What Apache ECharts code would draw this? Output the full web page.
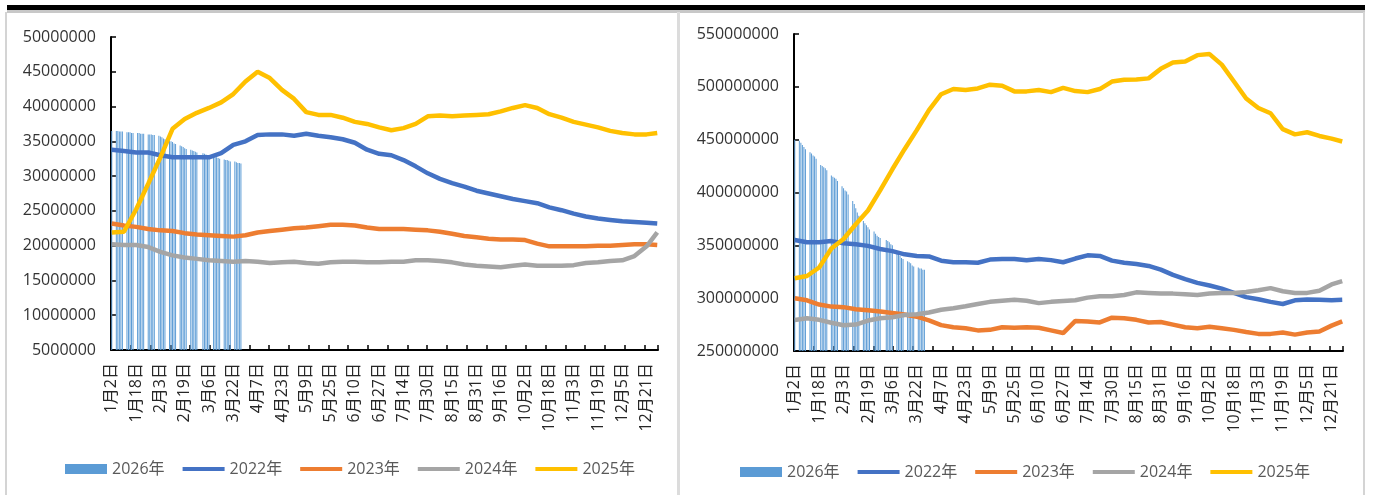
<!DOCTYPE html>
<html>
<head>
<meta charset="utf-8">
<script src="https://cdn.jsdelivr.net/npm/echarts@6/dist/echarts.min.js"></script>
<style>
html,body{margin:0;padding:0;background:#fff;}
#c{width:1373px;height:495px;}
</style>
</head>
<body>
<div id="c"></div>
<script>
// ---- categories: daily month/day labels (leap-year calendar, two days absent in the source)
const monthDays = [31,29,31,30,31,30,31,31,30,31,30,31];
const absentDays = ['1月1日','6月20日','7月6日'];
const lastDay = '12月28日';
const categories = [];
(function(){
  for (let m = 1; m <= 12; m++) {
    for (let d = 1; d <= monthDays[m-1]; d++) {
      const s = m + '月' + d + '日';
      if (absentDays.indexOf(s) >= 0) continue;
      categories.push(s);
      if (s === lastDay) return;
    }
  }
})();

const sampleDates = ['1月2日','1月10日','1月18日','1月26日','2月3日','2月11日','2月19日','2月27日','3月6日','3月14日','3月22日','3月30日','4月7日','4月15日','4月23日','5月1日','5月9日','5月17日','5月25日','6月2日','6月10日','6月18日','6月27日','7月5日','7月14日','7月22日','7月30日','8月7日','8月15日','8月23日','8月31日','9月8日','9月16日','9月24日','10月2日','10月10日','10月18日','10月26日','11月3日','11月11日','11月19日','11月27日','12月5日','12月13日','12月21日','12月28日'];

// ---- 2026 daily bars (weekdays)
const barDates = ['1月2日',
 '1月5日','1月6日','1月7日','1月8日','1月9日',
 '1月12日','1月13日','1月14日','1月15日','1月16日',
 '1月19日','1月20日','1月21日','1月22日','1月23日',
 '1月26日','1月27日','1月28日','1月29日','1月30日',
 '2月2日','2月3日','2月4日','2月5日','2月6日',
 '2月9日','2月10日','2月11日','2月12日','2月13日',
 '2月16日','2月17日','2月18日','2月19日','2月20日',
 '2月23日','2月24日','2月25日','2月26日','2月27日',
 '3月2日','3月3日','3月4日','3月5日','3月6日',
 '3月9日','3月10日','3月11日','3月12日','3月13日',
 '3月16日','3月17日','3月18日','3月19日','3月20日',
 '3月23日','3月24日','3月25日','3月26日','3月27日'];

const seriesNames = ['2026年','2022年','2023年','2024年','2025年'];

// ---- left chart values
const left2026 = [36500000,
 36500000,36500000,36400000,36400000,36400000,
 36300000,36300000,36300000,36200000,36200000,
 36200000,36200000,36100000,36100000,36100000,
 36000000,36000000,36000000,35900000,35900000,
 35800000,35700000,35600000,35400000,35300000,
 35100000,35000000,34900000,34700000,34600000,
 34400000,34300000,34200000,34000000,33900000,
 33800000,33700000,33600000,33500000,33400000,
 33300000,33200000,33100000,33000000,32900000,
 32800000,32700000,32700000,32600000,32500000,
 32400000,32300000,32300000,32200000,32100000,
 32100000,32000000,31900000,31900000,31800000];
const left2022 = [33800000,33600000,33400000,33400000,33000000,32700000,32700000,32700000,32700000,33300000,34500000,35000000,35900000,36000000,36000000,35800000,36100000,35800000,35600000,35300000,34800000,33800000,33200000,33000000,32300000,31400000,30400000,29600000,29000000,28500000,27900000,27500000,27100000,26700000,26400000,26100000,25500000,25100000,24600000,24200000,23900000,23700000,23500000,23400000,23300000,23200000];
const left2023 = [23200000,22900000,22700000,22400000,22200000,22100000,21800000,21600000,21500000,21400000,21300000,21500000,21900000,22100000,22300000,22500000,22600000,22800000,23000000,23000000,22900000,22600000,22400000,22400000,22400000,22300000,22200000,22000000,21700000,21400000,21200000,21000000,20900000,20900000,20800000,20300000,19900000,19900000,19900000,19900000,20000000,20000000,20100000,20200000,20200000,20100000];
const left2024 = [20200000,20100000,20100000,19800000,19100000,18600000,18300000,18100000,17900000,17800000,17700000,17800000,17700000,17500000,17600000,17700000,17500000,17400000,17600000,17700000,17700000,17600000,17600000,17700000,17700000,17900000,17900000,17800000,17600000,17300000,17100000,17000000,16900000,17100000,17300000,17100000,17100000,17100000,17200000,17500000,17600000,17800000,17900000,18500000,19900000,21900000];
const left2025 = [21900000,22000000,25200000,28900000,32700000,36800000,38200000,39100000,39800000,40600000,41800000,43600000,45000000,44100000,42400000,41100000,39200000,38800000,38800000,38400000,37800000,37500000,37000000,36600000,36900000,37500000,38600000,38700000,38600000,38700000,38800000,38900000,39300000,39800000,40200000,39800000,38900000,38400000,37800000,37400000,37000000,36500000,36200000,36000000,36000000,36200000];

// ---- right chart values
const right2026 = [450000000,
 449000000,447000000,445000000,443000000,441000000,
 438000000,437000000,435000000,434000000,432000000,
 426000000,425000000,424000000,423000000,421000000,
 416000000,415000000,414000000,413000000,411000000,
 406000000,404000000,402000000,401000000,398000000,
 392000000,389000000,385000000,381000000,378000000,
 373000000,371000000,369000000,367000000,365000000,
 363000000,361000000,359000000,358000000,357000000,
 355000000,354000000,353000000,351000000,350000000,
 344000000,342000000,340000000,338000000,337000000,
 335000000,334000000,333000000,331000000,330000000,
 329000000,328000000,328000000,327000000,327000000];
const right2022 = [355000000,353000000,353000000,354000000,352000000,351000000,349500000,346500000,344500000,341500000,340000000,339500000,335500000,334000000,334000000,333500000,336500000,337000000,337000000,335800000,337000000,336000000,334000000,337500000,340500000,340000000,335500000,333500000,332300000,330500000,327000000,322000000,318000000,314500000,312000000,309000000,305000000,301000000,299000000,296500000,294500000,298000000,298800000,298500000,298000000,298400000];
const right2023 = [300000000,298000000,294000000,292000000,291500000,289500000,288500000,287300000,286000000,284500000,282500000,279000000,274500000,272500000,271500000,269500000,270000000,272500000,272000000,272500000,272000000,269500000,267000000,278500000,278000000,277000000,281500000,281000000,279500000,277000000,277500000,275000000,272500000,271600000,273000000,271500000,270000000,268000000,266200000,266200000,267500000,265500000,267500000,268500000,274000000,278000000];
const right2024 = [279400000,281000000,279500000,276700000,274300000,275000000,278800000,281000000,282000000,284000000,284800000,286500000,289000000,290500000,292300000,294500000,296500000,297500000,298400000,297500000,295300000,296500000,297300000,298000000,300500000,301900000,301900000,303000000,305500000,305000000,304500000,304300000,303800000,302900000,304500000,304900000,304900000,305800000,307500000,309500000,306500000,304900000,305000000,307000000,313000000,316100000];
const right2025 = [318900000,321000000,329000000,347000000,356000000,370000000,383000000,402000000,422000000,441000000,459000000,478000000,493000000,498000000,497000000,498500000,502000000,501000000,495700000,495700000,497000000,495000000,499000000,496000000,495000000,497900000,505000000,506700000,507000000,508000000,517000000,523000000,524000000,530000000,531000000,521000000,505000000,489000000,480000000,475000000,460000000,455000000,457000000,453500000,451000000,448300000];

// ---- styles
const colors = {'2026年':'#5B9BD5','2022年':'#4472C4','2023年':'#ED7D31','2024年':'#A5A5A5','2025年':'#FFC000'};
const FONT = "'Open Sans','Noto Sans CJK SC',sans-serif";
const LINE_ICON = 'path://M0,0L42,0L42,4L0,4Z';

function pairs(dates, vals){ return dates.map((d,i)=>[categories.indexOf(d), vals[i]]); }

function xAxisFor(gi){
  return {
    type:'category', gridIndex:gi, data:categories, boundaryGap:true,
    axisLine:{show:true, lineStyle:{color:'#000', width:2}},
    axisTick:{show:true, inside:true, length:5, interval:12, lineStyle:{color:'#000', width:1.5}},
    axisLabel:{interval:15, rotate:90, margin:13, fontSize:16, color:'#262626', fontFamily:FONT},
    splitLine:{show:false}
  };
}
function yAxisFor(gi, mn, mx, step){
  return {
    type:'value', gridIndex:gi, min:mn, max:mx, interval:step,
    axisLine:{show:true, lineStyle:{color:'#000', width:2}},
    axisTick:{show:true, inside:true, length:5, lineStyle:{color:'#000', width:1.5}},
    axisLabel:{margin:15, fontSize:16, color:'#333', fontFamily:FONT, formatter:v=>String(v)},
    splitLine:{show:false}
  };
}
function seriesFor(gi, b26, l22, l23, l24, l25){
  const out = [{
    name:'2026年', type:'bar', xAxisIndex:gi, yAxisIndex:gi,
    data:pairs(barDates, b26), barWidth:1, itemStyle:{color:colors['2026年']}
  }];
  [['2022年',l22],['2023年',l23],['2024年',l24],['2025年',l25]].forEach(([n,v])=>{
    out.push({name:n, type:'line', xAxisIndex:gi, yAxisIndex:gi, data:pairs(sampleDates, v),
      showSymbol:false, symbol:'none', smooth:false,
      lineStyle:{color:colors[n], width:4.5}, itemStyle:{color:colors[n]}});
  });
  return out;
}
function legendFor(left, top){
  return {
    left:left, top:top, itemWidth:42, itemHeight:10, itemGap:18, symbolKeepAspect:true,
    textStyle:{fontSize:16, color:'#595959', fontFamily:FONT},
    data:seriesNames.map(n=> n==='2026年'
      ? {name:n, icon:'rect', itemStyle:{color:colors[n]}}
      : {name:n, icon:LINE_ICON, itemStyle:{color:colors[n], borderWidth:0}, lineStyle:{width:0, opacity:0}})
  };
}

const chart = echarts.init(document.getElementById('c'), null, {renderer:'canvas'});
chart.setOption({
  animation:false,
  backgroundColor:'#fff',
  grid:[
    {left:111, top:37, width:547, height:313},
    {left:794, top:34, width:549, height:317}
  ],
  xAxis:[xAxisFor(0), xAxisFor(1)],
  yAxis:[yAxisFor(0,5000000,50000000,5000000), yAxisFor(1,250000000,550000000,50000000)],
  legend:[legendFor(60,456), legendFor(735,459)],
  series:[].concat(
    seriesFor(0, left2026, left2022, left2023, left2024, left2025),
    seriesFor(1, right2026, right2022, right2023, right2024, right2025)
  ),
  graphic:[
    {type:'rect', shape:{x:7, y:5, width:1358, height:5}, style:{fill:'#000'}, silent:true},
    {type:'rect', shape:{x:7, y:10, width:1358, height:3}, style:{fill:'#c8c8c8'}, silent:true},
    {type:'rect', shape:{x:5, y:12, width:2, height:483}, style:{fill:'#d4d4d4'}, silent:true},
    {type:'rect', shape:{x:677, y:12, width:3, height:483}, style:{fill:'#dcdcdc'}, silent:true},
    {type:'rect', shape:{x:1363, y:12, width:2, height:483}, style:{fill:'#d4d4d4'}, silent:true}
  ]
});
</script>
</body>
</html>
